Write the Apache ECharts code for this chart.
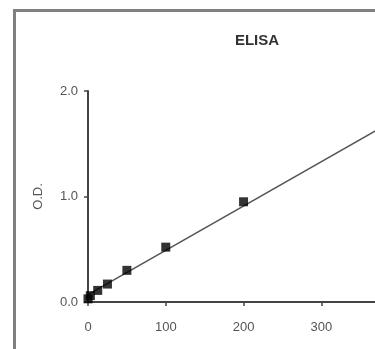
<!DOCTYPE html>
<html>
<head>
<meta charset="utf-8">
<script src="https://cdn.jsdelivr.net/npm/echarts@6/dist/echarts.min.js"></script>
<style>
  html, body { margin: 0; padding: 0; background: #fff; }
  #chart { width: 375px; height: 349px; }
</style>
</head>
<body>
<div id="chart"></div>
<script>
// standard curve points (conc, O.D.)
var concValues = [0, 3, 12.5, 25, 50, 100, 200];
var odValues = [0.03, 0.06, 0.11, 0.17, 0.30, 0.52, 0.95];
// fitted line end points
var fitX = [0, 450];
var fitY = [0.07, 1.96];
var yTicks = [0, 1, 2];

var points = concValues.map(function (c, i) { return [c, odValues[i]]; });
var fitLine = fitX.map(function (x, i) { return [x, fitY[i]]; });

var chart = echarts.init(document.getElementById("chart"));
var option = {
  animation: false,
  title: {
    text: "ELISA",
    left: 252,
    top: 28,
    textAlign: "center",
    textStyle: { fontFamily: "Liberation Sans", fontSize: 15, fontWeight: "bold", color: "#333" }
  },
  grid: { left: 88, top: 91, width: 350, bottom: 47, containLabel: false, outerBoundsMode: "none" },
  xAxis: {
    type: "value",
    min: 0,
    max: 450,
    interval: 100,
    name: "Conc. (ng/ml)",
    nameLocation: "middle",
    nameGap: 48,
    nameTextStyle: { fontFamily: "Liberation Sans", fontSize: 13, color: "#888" },
    axisLine: { show: true, lineStyle: { color: "#444", width: 2 } },
    axisTick: { show: true, length: 4, lineStyle: { color: "#444", width: 1.5 } },
    axisLabel: { margin: 19, fontFamily: "Liberation Sans", fontSize: 13, color: "#555" },
    splitLine: { show: false }
  },
  yAxis: {
    type: "value",
    min: 0,
    max: 2,
    interval: 1,
    name: "O.D.",
    nameLocation: "middle",
    nameGap: 43,
    nameRotate: 90,
    nameTextStyle: { fontFamily: "Liberation Sans", fontSize: 13, color: "#555" },
    axisLine: { show: true, lineStyle: { color: "#444", width: 2 } },
    axisTick: { show: true, length: 4, lineStyle: { color: "#444", width: 1.5 } },
    axisLabel: {
      margin: 10,
      fontFamily: "Liberation Sans",
      fontSize: 13,
      color: "#555",
      formatter: function (v) { return yTicks.indexOf(v) >= 0 ? v.toFixed(1) : ""; }
    },
    splitLine: { show: false }
  },
  graphic: [
    {
      type: "rect",
      shape: { x: 14.5, y: 10.5, width: 500, height: 500 },
      style: { fill: "none", stroke: "#808080", lineWidth: 3 },
      z: 100
    }
  ],
  series: [
    {
      type: "line",
      data: fitLine,
      showSymbol: false,
      lineStyle: { color: "#555", width: 1.5 },
      z: 2
    },
    {
      type: "scatter",
      data: points,
      symbol: "rect",
      symbolSize: 9,
      itemStyle: { color: "#000" },
      z: 3
    }
  ]
};
chart.setOption(option);
</script>
</body>
</html>
